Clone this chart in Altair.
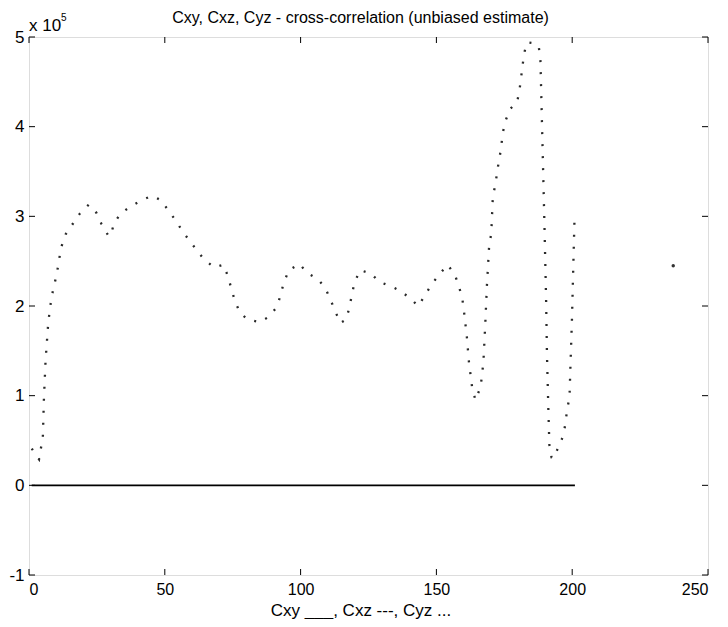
import altair as alt
import pandas as pd

# Cyz (dotted) trace, y in units of 1e5
cyz_x = [1, 3.7, 5.1, 5.5, 6.1, 7.1, 8.3, 10.3, 11.8, 13.5, 16.2, 18.7, 22, 24.8, 26.6,
         29.1, 30, 31.3, 33.7, 37.4, 41.5, 45.3, 48.6, 51.7, 54.1, 56.8, 59.6, 62.3,
         64.5, 68.2, 71.6, 73.4, 74.5, 75.9, 77.6, 80.4, 84.9, 88.3, 91.3, 92.6, 93.8,
         95.7, 99.6, 102.4, 106.4, 109.1, 111, 112.8, 114.6, 116.8, 118, 118.9, 119.9,
         122, 126, 128.9, 133.3, 137.2, 140.9, 143.3, 145.8, 148.2, 151.3, 154.1, 156.8,
         158.4, 159.6, 160.2, 161.2, 162, 163.2, 164.4, 166.3, 167.3, 168, 168.6, 169.4,
         170.2, 170.8, 171.8, 172.4, 173.3, 173.9, 174.5, 175.5, 177.2, 179.7, 180.6,
         181.2, 181.8, 182.4, 183.4, 186, 187.7, 188.3, 189.8, 190.4, 190.7, 191.2,
         191.6, 192.4, 193, 195, 196.8, 197.6, 198.1, 199, 199.3, 199.9, 200.9]
cyz_y = [0.41, 0.29, 0.54, 0.97, 1.39, 1.82, 2.1, 2.37, 2.65, 2.8, 2.92, 3.03, 3.13, 3.04,
         2.92, 2.79, 2.78, 2.92, 3.03, 3.11, 3.18, 3.23, 3.18, 3.05, 2.95, 2.82, 2.71,
         2.6, 2.52, 2.43, 2.46, 2.32, 2.19, 2.05, 1.93, 1.85, 1.82, 1.88, 1.99, 2.12,
         2.26, 2.4, 2.47, 2.37, 2.3, 2.2, 2.07, 1.94, 1.81, 1.85, 1.99, 2.13, 2.27,
         2.4, 2.36, 2.27, 2.22, 2.16, 2.07, 2.0, 2.12, 2.24, 2.36, 2.46, 2.35,
         2.21, 2.07, 1.93, 1.66, 1.37, 1.08, 0.95, 1.1, 1.37, 1.8, 2.23, 2.66,
         2.81, 3.23, 3.36, 3.51, 3.66, 3.79, 3.94, 4.07, 4.2, 4.27, 4.41,
         4.55, 4.7, 4.83, 4.94, 4.93, 4.89, 4.74, 2.88, 2.06, 1.47, 0.87,
         0.45, 0.31, 0.3, 0.43, 0.56, 0.71, 0.84, 0.98, 1.28, 1.84, 3.03]

# Cxy (solid) trace
cxy_x = [1, 201]
cxy_y = [0.0, 0.0]

# isolated dot
dot_x = [237.2]
dot_y = [2.45]

x_ticks = [0, 50, 100, 150, 200, 250]
y_ticks = [-1, 0, 1, 2, 3, 4, 5]

TITLE = "Cxy, Cxz, Cyz - cross-correlation (unbiased estimate)"
XTITLE = "Cxy ___, Cxz ---, Cyz ..."

W, H = 679, 538
FONT = "Liberation Sans"

xs = alt.Scale(domain=[0, 250], nice=False, zero=False)
ys = alt.Scale(domain=[-1, 5], nice=False, zero=False)

cyz = pd.DataFrame({"x": cyz_x, "y": cyz_y, "o": range(len(cyz_x))})
cxy = pd.DataFrame({"x": cxy_x, "y": cxy_y})
dot = pd.DataFrame({"x": dot_x, "y": dot_y})
xt = pd.DataFrame({"v": x_ticks})
yt = pd.DataFrame({"v": y_ticks})

xax = alt.Axis(values=x_ticks, tickSize=0, domain=False, grid=False, labelFontSize=16,
               labelFont=FONT, labelColor="black", labelPadding=6, title=XTITLE,
               titleFont=FONT, titleFontSize=17, titleFontWeight="normal", titleColor="black",
               titleBaseline="alphabetic", titleY=40, titleX=W / 2 - 8)
yax = alt.Axis(values=y_ticks, tickSize=0, domain=False, grid=False, labelFontSize=17,
               labelFont=FONT, labelColor="black", labelPadding=5, title=None,
               labelExpr="'' + datum.value")

base_line = alt.Chart(cxy).mark_line(color="black", strokeWidth=1.6).encode(
    x=alt.X("x:Q", scale=xs, axis=xax),
    y=alt.Y("y:Q", scale=ys, axis=yax),
)

dotted = alt.Chart(cyz).mark_line(color="#2a2a2a", strokeWidth=2.3, strokeDash=[2, 10],
                                  clip=True).encode(
    x=alt.X("x:Q", scale=xs), y=alt.Y("y:Q", scale=ys), order="o:Q")

stray = alt.Chart(dot).mark_point(filled=True, size=12, color="#333333", opacity=1).encode(
    x=alt.X("x:Q", scale=xs), y=alt.Y("y:Q", scale=ys))

tl = 6
bt = alt.Chart(xt).mark_rule(color="black", strokeWidth=1).encode(
    x=alt.X("v:Q", scale=xs), y=alt.value(H), y2=alt.value(H - tl))
tt = alt.Chart(xt).mark_rule(color="black", strokeWidth=1).encode(
    x=alt.X("v:Q", scale=xs), y=alt.value(0), y2=alt.value(tl))
lt = alt.Chart(yt).mark_rule(color="black", strokeWidth=1).encode(
    y=alt.Y("v:Q", scale=ys), x=alt.value(0), x2=alt.value(tl))
rt = alt.Chart(yt).mark_rule(color="black", strokeWidth=1).encode(
    y=alt.Y("v:Q", scale=ys), x=alt.value(W), x2=alt.value(W - tl))

title_txt = alt.Chart(pd.DataFrame({"t": [TITLE]})).mark_text(
    align="center", baseline="alphabetic", font=FONT, fontSize=16, color="black").encode(
    text="t:N", x=alt.value(W / 2 - 8), y=alt.value(-14))
exp_txt = alt.Chart(pd.DataFrame({"t": ["x 10"]})).mark_text(
    align="left", baseline="alphabetic", font=FONT, fontSize=17, color="black").encode(
    text="t:N", x=alt.value(0), y=alt.value(-6))
exp_sup = alt.Chart(pd.DataFrame({"t": ["5"]})).mark_text(
    align="left", baseline="alphabetic", font=FONT, fontSize=10, color="black").encode(
    text="t:N", x=alt.value(32), y=alt.value(-16))

chart = alt.layer(base_line, dotted, stray, bt, tt, lt, rt, title_txt, exp_txt, exp_sup).properties(
    width=W, height=H,
    autosize=alt.AutoSizeParams(type="none"),
    padding={"left": 21, "top": 29, "right": 12, "bottom": 44},
).configure_view(stroke="black", strokeWidth=1.5).configure(background="white")

chart.save("out.html", embed_options={"renderer": "svg", "actions": False})
